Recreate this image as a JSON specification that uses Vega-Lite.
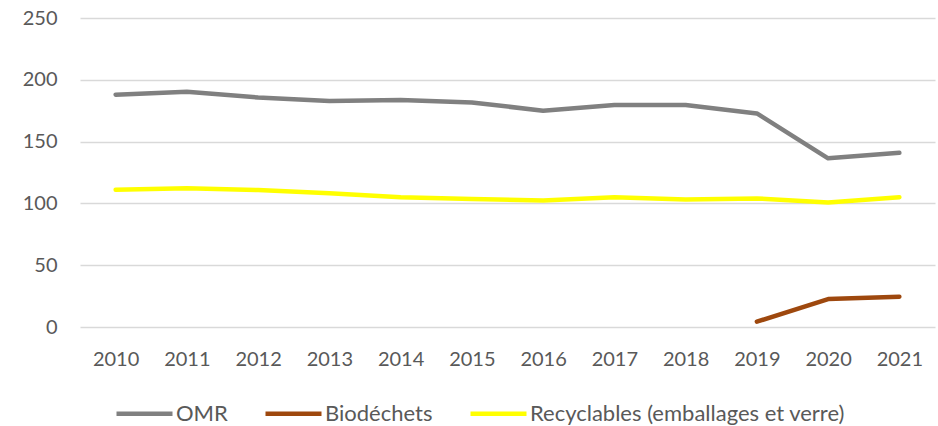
{
  "$schema": "https://vega.github.io/schema/vega-lite/v6.json",
  "autosize": {"type": "none"},
  "padding": {"left": 80, "top": 18, "right": 3, "bottom": 99},
  "width": 855,
  "height": 309,
  "config": {
    "view": {"stroke": null},
    "font": "Lato"
  },
  "data": {
    "values": [
      {"year": "2010", "series": "OMR", "value": 188},
      {"year": "2011", "series": "OMR", "value": 190.3},
      {"year": "2012", "series": "OMR", "value": 185.7},
      {"year": "2013", "series": "OMR", "value": 182.8},
      {"year": "2014", "series": "OMR", "value": 183.6},
      {"year": "2015", "series": "OMR", "value": 181.7},
      {"year": "2016", "series": "OMR", "value": 175},
      {"year": "2017", "series": "OMR", "value": 179.6},
      {"year": "2018", "series": "OMR", "value": 179.6},
      {"year": "2019", "series": "OMR", "value": 172.8},
      {"year": "2020", "series": "OMR", "value": 136.5},
      {"year": "2021", "series": "OMR", "value": 140.9},
      {"year": "2019", "series": "Biodéchets", "value": 4.3},
      {"year": "2020", "series": "Biodéchets", "value": 22.6},
      {"year": "2021", "series": "Biodéchets", "value": 24.5},
      {"year": "2010", "series": "Recyclables (emballages et verre)", "value": 111},
      {"year": "2011", "series": "Recyclables (emballages et verre)", "value": 112.3},
      {"year": "2012", "series": "Recyclables (emballages et verre)", "value": 110.8},
      {"year": "2013", "series": "Recyclables (emballages et verre)", "value": 108.3},
      {"year": "2014", "series": "Recyclables (emballages et verre)", "value": 105},
      {"year": "2015", "series": "Recyclables (emballages et verre)", "value": 103.5},
      {"year": "2016", "series": "Recyclables (emballages et verre)", "value": 102.4},
      {"year": "2017", "series": "Recyclables (emballages et verre)", "value": 105},
      {"year": "2018", "series": "Recyclables (emballages et verre)", "value": 103.2},
      {"year": "2019", "series": "Recyclables (emballages et verre)", "value": 104},
      {"year": "2020", "series": "Recyclables (emballages et verre)", "value": 100.8},
      {"year": "2021", "series": "Recyclables (emballages et verre)", "value": 105}
    ]
  },
  "mark": {"type": "line", "strokeWidth": 4.5, "strokeCap": "round", "strokeJoin": "round"},
  "encoding": {
    "x": {
      "field": "year",
      "type": "ordinal",
      "scale": {"type": "point", "padding": 0.5},
      "axis": {
        "title": null,
        "labelAngle": 0,
        "ticks": false,
        "domain": false,
        "labelFontSize": 20,
        "labelColor": "#595959",
        "labelPadding": 22
      }
    },
    "y": {
      "field": "value",
      "type": "quantitative",
      "scale": {"domain": [0, 250], "nice": false},
      "axis": {
        "title": null,
        "values": [0, 50, 100, 150, 200, 250],
        "ticks": false,
        "domain": false,
        "labelFontSize": 20,
        "labelColor": "#595959",
        "labelPadding": 23,
        "gridColor": "#D9D9D9",
        "gridWidth": 1.5
      }
    },
    "color": {
      "field": "series",
      "type": "nominal",
      "scale": {
        "domain": ["OMR", "Biodéchets", "Recyclables (emballages et verre)"],
        "range": ["#808080", "#9E480E", "#FFFF00"]
      },
      "legend": {
        "title": null,
        "orient": "none",
        "direction": "horizontal",
        "legendX": 34,
        "legendY": 365,
        "symbolType": "stroke",
        "symbolSize": 3136,
        "symbolStrokeWidth": 4.5,
        "labelFontSize": 22,
        "labelColor": "#595959",
        "labelOffset": 1,
        "labelLimit": 500,
        "columnPadding": 28
      }
    }
  }
}
